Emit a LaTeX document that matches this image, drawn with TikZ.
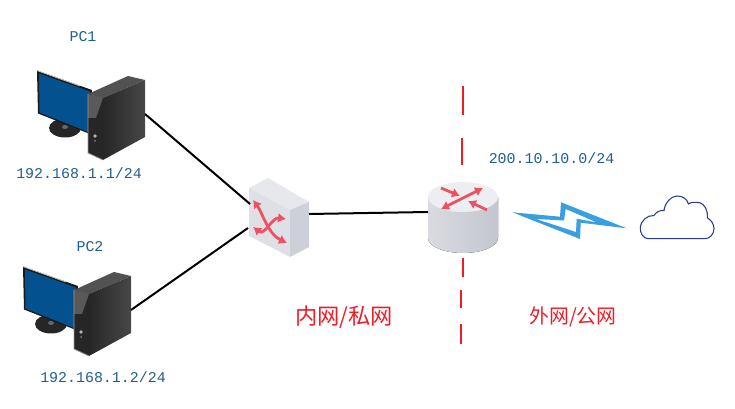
\documentclass[tikz,border=0pt]{standalone}
\usepackage{fontspec}
\usetikzlibrary{arrows.meta}
\setmainfont{Liberation Mono}
\newfontfamily\cjk{Noto Sans CJK SC}
\definecolor{lbl}{HTML}{1F5F8E}
\definecolor{redl}{HTML}{EE1C25}
\definecolor{arr}{HTML}{EE5262}
\definecolor{boltc}{HTML}{3A9FE0}
\definecolor{cloudc}{HTML}{2A3A9C}
\definecolor{scr}{HTML}{03528F}
\definecolor{swtop}{HTML}{E7E8EC}
\definecolor{swleft}{HTML}{DFE0E6}
\definecolor{swright}{HTML}{CDD0D8}
\definecolor{rtop}{HTML}{EDEEF2}
\definecolor{rsa}{HTML}{DADBE0}
\definecolor{rsb}{HTML}{D0D2D8}
\definecolor{rsc}{HTML}{C3C6CF}
\tikzset{
  iplabel/.style={inner sep=0pt,text=lbl,font=\fontsize{11.2pt}{12pt}\selectfont},
  zonelabel/.style={inner sep=0pt,text=redl,font=\cjk\fontsize{16.7pt}{18pt}\selectfont},
  wanlabel/.style={zonelabel,font=\cjk\fontsize{14.9pt}{16pt}\selectfont},
  link/.style={draw=black,line width=1.5pt},
  divider/.style={draw=redl,line width=1.5pt},
  redarrow/.style={draw=arr,line width=2.1pt,-{Latex[length=6pt,width=7.5pt]}},
  redboth/.style={draw=arr,line width=2.1pt,{Latex[length=6pt,width=7.5pt]}-{Latex[length=6pt,width=7.5pt]}},
}
\newcommand{\pcicon}[3]{%
\begin{scope}[shift={(#1,#2)}]
  \fill[black!85] (65,128) ellipse (16 and 9.5);
  \fill[black!60] (65,127) ellipse (3 and 2);
  \fill[black!90!white] (37,70.5) -- (92,90) -- (90,134) -- (38,113.5) -- cycle;
  \draw[black!25,line width=.6pt] (37.3,70.7) -- (80,86);
  \fill[scr] (39,73.5) -- (90,91.5) -- (88,132) -- (39.5,112.5) -- cycle;
  \fill[black!68] (88,94) -- (128,76) -- (145,80) -- (103,98) -- cycle;
  \shade[left color=black!85,right color=black!72] (103,98) -- (145,80) -- (145,137) -- (103,160) -- cycle;
  \fill[black!85] (88,94) -- (103,98) -- (103,160) -- (88,153) -- cycle;
  \fill[black!65] (88,94) -- (103,98) -- (96,118) -- (88,118) -- cycle;
  \draw[black!40,line width=.6pt] (88,94) -- (88,153) -- (103,160);
  \fill[black!30] (95,136) circle (1.8);
  \fill[black!50] (95,141) circle (1);
  \coordinate (#3) at (145,114);
\end{scope}}
\begin{document}
\begin{tikzpicture}[x=.75pt,y=-.75pt]
\useasboundingbox (0,0) rectangle (735,409);
\pcicon{0}{0}{pca}
\pcicon{-14}{196}{pcb}
\node[iplabel] (pc1) at (83,37) {PC1};
\node[iplabel] (pc2) at (90,247) {PC2};
\node[iplabel] (ip1) at (79,173) {192.168.1.1/24};
\node[iplabel] (ip2) at (103,377) {192.168.1.2/24};
\node[iplabel] (ip3) at (551.5,158) {200.10.10.0/24};
\node[zonelabel] (lan) at (344,317) {内网/私网};
\node[wanlabel] (wan) at (573,317) {外网/公网};
% switch
\coordinate (swa) at (250,204);
\coordinate (swb) at (248,228);
\coordinate (swr) at (309,214);
\fill[swtop] (249,188) -- (268,178) -- (309,202) -- (290,210) -- cycle;
\fill[swleft] (249,188) -- (290,210) -- (290,257) -- (249,236) -- cycle;
\fill[swright] (290,210) -- (309,202) -- (309,247) -- (290,257) -- cycle;
\draw[redboth] (253,200) .. controls (262,212) and (268,234) .. (287,243);
\draw[redboth] (253,227) .. controls (265,236) and (272,217) .. (286,219);
% router
\coordinate (rtl) at (428,212);
\fill[left color=rsa,middle color=rsb,right color=rsc] (428,197) -- (428,238) arc[start angle=180,end angle=360,x radius=35,y radius=-15] -- (498,197) -- cycle;
\fill[rtop] (463,197) ellipse (35 and 15);
\draw[redarrow] (441,188) -- (460,196);
\draw[redboth] (441,209) -- (483,188);
\draw[redarrow] (487,210) -- (468,201);
% links
\draw[link] (pca) -- (swa);
\draw[link] (pcb) -- (swb);
\draw[link] (swr) -- (rtl);
% dividers
\coordinate (da) at (463,86);
\coordinate (db) at (463,115.5);
\coordinate (dc) at (462,138);
\coordinate (dd) at (462,165);
\coordinate (de) at (463,258);
\coordinate (df) at (463,277);
\coordinate (dg) at (461,290);
\coordinate (dh) at (461,308);
\coordinate (di) at (461,324);
\coordinate (dj) at (461,344);
\draw[divider] (da) -- (db);
\draw[divider] (dc) -- (dd);
\draw[divider] (de) -- (df);
\draw[divider] (dg) -- (dh);
\draw[divider] (di) -- (dj);
% bolt
\fill[boltc,even odd rule] (512.3,212.3) -- (560,216.7) -- (561,202.3) -- (626.7,228.3) -- (580.7,222.7) -- (580,239) -- cycle
 (536,219) -- (564,220.5) -- (565.7,209) -- (597,222.5) -- (576.7,218.7) -- (576,232) -- cycle;
% cloud
\draw[cloudc,line width=.8pt,fill=white] (648.3,238.7)
  .. controls (643,238.7) and (640.3,233) .. (640.3,228.5)
  .. controls (640.3,221) and (647,215) .. (654,215.5)
  .. controls (656,212) and (660,210) .. (664,210.5)
  .. controls (665,202) and (672,196) .. (677,196)
  .. controls (683,196) and (687,199) .. (688.5,204)
  .. controls (691,202) and (695,202) .. (698,202.5)
  .. controls (705,203) and (708,211) .. (707.5,218)
  .. controls (711,220) and (714,224) .. (714,228.5)
  .. controls (714,234) and (710,238.7) .. (705,238.7)
  -- cycle;
\end{tikzpicture}
\end{document}
